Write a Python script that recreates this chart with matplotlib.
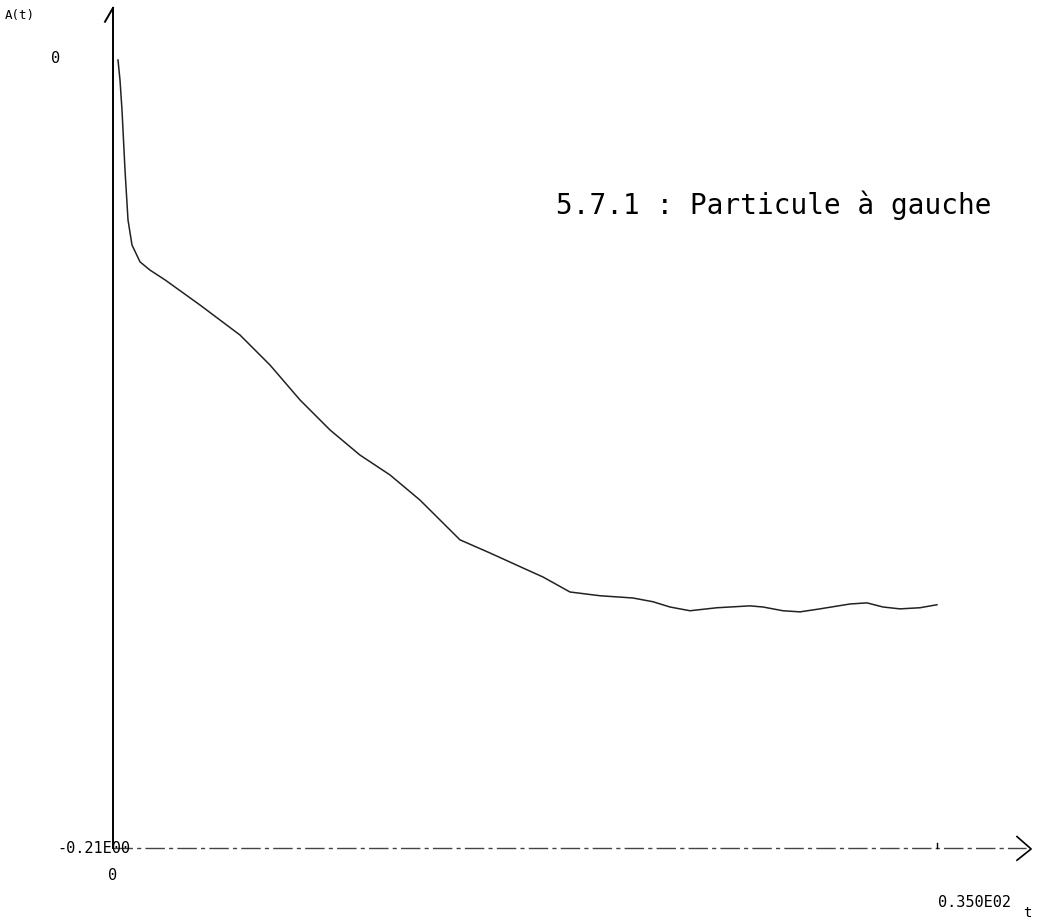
import numpy as np
import matplotlib
matplotlib.use("Agg")
import matplotlib.pyplot as plt

# curve
t = [0.212, 0.297, 0.382, 0.510, 0.637, 0.807, 1.147, 1.572, 2.209, 3.695,
     5.394, 6.669, 7.943, 9.217, 10.491, 11.766, 13.040, 13.890, 14.739, 16.013,
     17.415, 18.264, 19.411, 20.686, 22.087, 22.937, 23.659, 24.508, 25.655, 27.057,
     27.609, 28.459, 29.181, 30.030, 31.305, 32.027, 32.706, 33.428, 34.278, 35.0]
val = [0.0, -0.0053, -0.0133, -0.0293, -0.0426, -0.0493, -0.0538, -0.0560, -0.0586, -0.0653,
       -0.0733, -0.0813, -0.0906, -0.0986, -0.1053, -0.1106, -0.1173, -0.1226, -0.1279, -0.1314,
       -0.1354, -0.1378, -0.1418, -0.1428, -0.1434, -0.1444, -0.1458, -0.1468, -0.1460, -0.1455,
       -0.1458, -0.1468, -0.1471, -0.1463, -0.1450, -0.1447, -0.1458, -0.1463, -0.1460, -0.1452]

x_max = 35.0
y_min = -0.21
title = "5.7.1 : Particule à gauche"

fig = plt.figure(figsize=(10.41, 9.24), dpi=100)
ax = fig.add_axes([0, 0, 1, 1])
ax.set_xlim(-4.80, 39.42)
ax.set_ylim(-0.2303, 0.0160)
ax.axis("off")

mono = "DejaVu Sans Mono"

# axes drawn by hand like the old plotter
ax.plot([0, 0], [y_min, 0.0139], color="black", lw=1.4)
ax.plot([0, -0.34], [0.0139, 0.0102], color="black", lw=1.4)
ax.plot([0, 38.8], [y_min, y_min], color="#444444", lw=1.0, dashes=(14, 3, 3, 3))
ax.plot([38.4, 39.0, 38.4], [y_min + 0.0030, y_min - 0.0003, y_min - 0.0033],
        color="black", lw=1.2)
ax.plot([x_max, x_max], [y_min, y_min + 0.0012], color="black", lw=1.0)

ax.plot(t, val, color="#222222", lw=1.1)

ax.text(-2.45, 0.0005, "0", fontsize=11, family=mono, ha="center", va="center")
ax.text(-2.35, y_min - 0.0003, "-0.21E00", fontsize=11, family=mono,
        ha="left", va="center")
ax.text(0, y_min - 0.0075, "0", fontsize=11, family=mono, ha="center", va="center")
ax.text(x_max + 1.6, y_min - 0.0147, "0.350E02", fontsize=11, family=mono,
        ha="center", va="center")
ax.text(38.85, y_min - 0.0175, "t", fontsize=10, family=mono, ha="center", va="center")
ax.text(-4.6, 0.0120, "A(t)", fontsize=9, family=mono, ha="left", va="center")

ax.text(18.8, -0.0388, title, fontsize=20, family=mono, ha="left", va="center")

fig.savefig("out.png", dpi=100)
